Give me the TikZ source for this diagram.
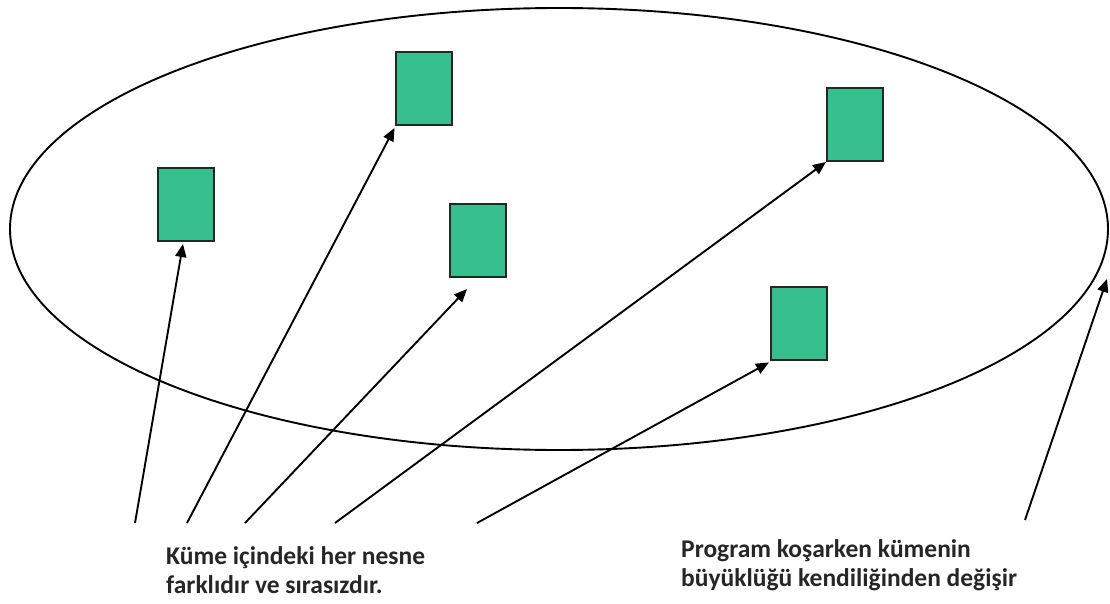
\documentclass[tikz,border=0pt]{standalone}
\usepackage{fontspec}
\setmainfont{Carlito}
\usetikzlibrary{arrows.meta}

\definecolor{elemgreen}{HTML}{36BE8C}
\definecolor{textgray}{HTML}{262626}

\tikzset{
  elem/.style={draw=black!85, line width=2pt, fill=elemgreen, minimum width=56pt, minimum height=73pt, inner sep=0pt},
  pointer/.style={line width=1.9pt, -{Triangle[length=13pt,width=11pt]}},
  note/.style={anchor=north west, align=left, inner sep=0pt, text=textgray, font=\fontsize{25.5}{29}\selectfont\bfseries}
}

\begin{document}
\begin{tikzpicture}[x=1pt,y=1pt,yscale=-1,xscale=1]
        \useasboundingbox (0,0) rectangle (1110,604);
        %Ellipse
        \draw [line width=1.9pt] (559,229) ellipse [x radius=549, y radius=221];
        %Elements
        \node[elem] (e1) at (186,204.5) {};
        \node[elem] (e2) at (423.5,88.5) {};
        \node[elem] (e3) at (478,240.5) {};
        \node[elem] (e4) at (855,124.5) {};
        \node[elem] (e5) at (799,323) {};
        %Arrow ends
        \coordinate (s1) at (135,523);
        \coordinate (s2) at (187,523);
        \coordinate (s3) at (245,523);
        \coordinate (s4) at (335,523);
        \coordinate (s5) at (477,523);
        \coordinate (s6) at (1025,520);
        \coordinate (t3) at (467,289);
        \coordinate (t6) at (1107,279);
        %Straight Lines
        \draw[pointer] (s1) -- ([xshift=-3pt,yshift=2pt]e1.south);
        \draw[pointer] (s2) -- ([yshift=2pt]e2.south west);
        \draw[pointer] (s3) -- (t3);
        \draw[pointer] (s4) -- (e4.south west);
        \draw[pointer] (s5) -- ([xshift=-1pt,yshift=2pt]e5.south west);
        \draw[pointer] (s6) -- (t6);
        %Texts
        \node[note] (left) at (166,546) {Küme içindeki her nesne\\farklıdır ve sırasızdır.};
        \node[note] (right) at (681,539) {Program koşarken kümenin\\büyüklüğü kendiliğinden değişir};
    \end{tikzpicture}
\end{document}
